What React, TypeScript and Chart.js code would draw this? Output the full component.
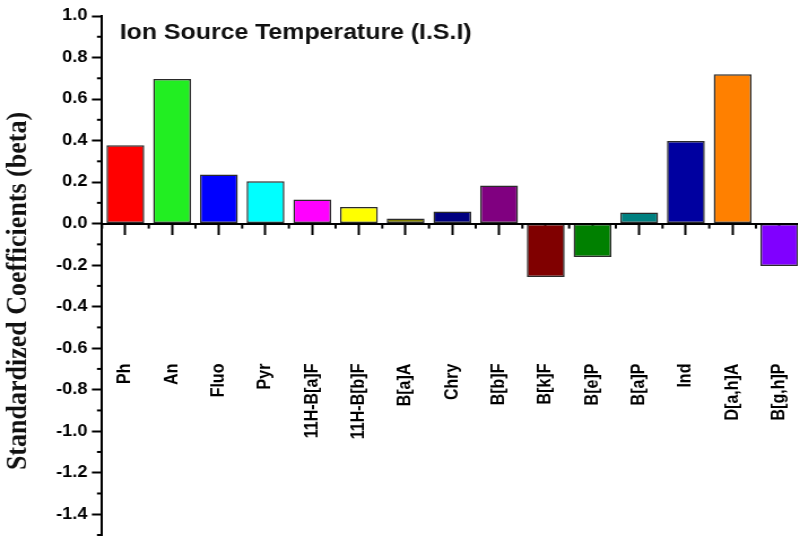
import { useEffect, useRef } from "react";
import { Chart, registerables } from "chart.js";

Chart.register(...registerables);

// Standardized regression coefficients for each PAH
const compounds = [
  "Ph", "An", "Fluo", "Pyr", "11H-B[a]F", "11H-B[b]F", "B[a]A", "Chry",
  "B[b]F", "B[k]F", "B[e]P", "B[a]P", "Ind", "D[a,h]A", "B[g,h]P",
];
const beta = [
  0.378, 0.697, 0.236, 0.204, 0.116, 0.08, 0.024, 0.058,
  0.183, -0.257, -0.161, 0.054, 0.398, 0.719, -0.204,
];
const barColors = [
  "#FF0000", "#22EE22", "#0000FF", "#00FFFF", "#FF00FF", "#FFFF00", "#808000", "#000080",
  "#800080", "#800000", "#008000", "#008080", "#0000A0", "#FF8000", "#8000FF",
];
const chartTitle = "Ion Source Temperature (I.S.I)";
const yAxisTitle = "Standardized Coefficients (beta)";
const yMin = -1.5;
const yMax = 1.0;
const yStep = 0.2;

const SANS = '"Liberation Sans", Arial, sans-serif';
const SERIF = '"Liberation Serif", "Times New Roman", serif';

// Minor ticks, the plot title and the rotated y-axis title
const decorations = {
  id: "decorations",
  afterDraw(chart: any) {
    const { ctx, scales } = chart;
    const x = scales.x;
    const y = scales.y;
    const axisX = chart.chartArea.left;
    const zeroY = y.getPixelForValue(0);
    ctx.save();
    ctx.strokeStyle = "#000";
    ctx.lineWidth = 2;

    // minor ticks on the value axis (odd tenths)
    for (let k = Math.round(yMin * 10); k <= Math.round(yMax * 10); k++) {
      if (k % 2 === 0) continue;
      const py = y.getPixelForValue(k / 10);
      ctx.beginPath();
      ctx.moveTo(axisX - 4.5, py);
      ctx.lineTo(axisX, py);
      ctx.stroke();
    }

    // minor ticks between categories on the zero line
    const half = (x.getPixelForValue(1) - x.getPixelForValue(0)) / 2;
    for (let i = 0; i <= compounds.length; i++) {
      const px = x.getPixelForValue(0) - half + i * half * 2;
      ctx.beginPath();
      ctx.moveTo(px, zeroY);
      ctx.lineTo(px, zeroY + 5);
      ctx.stroke();
    }

    ctx.fillStyle = "#111";
    ctx.font = `bold 22px ${SANS}`;
    ctx.textAlign = "left";
    ctx.textBaseline = "alphabetic";
    ctx.fillText(chartTitle, 106, 38.5);

    ctx.translate(16, 291);
    ctx.rotate(-Math.PI / 2);
    ctx.font = `bold 26px ${SERIF}`;
    ctx.textAlign = "center";
    ctx.textBaseline = "middle";
    ctx.fillText(yAxisTitle, 0, 0);
    ctx.restore();
  },
};

export default function App() {
  const canvasRef = useRef<HTMLCanvasElement | null>(null);

  useEffect(() => {
    if (!canvasRef.current) return;
    const chart = new Chart(canvasRef.current, {
      type: "bar",
      data: {
        labels: compounds,
        datasets: [
          {
            data: beta,
            backgroundColor: barColors,
            borderColor: "#2a2a2a",
            borderWidth: 1.5,
            borderSkipped: false,
            categoryPercentage: 1,
            barPercentage: 0.81,
          },
        ],
      },
      options: {
        responsive: false,
        maintainAspectRatio: false,
        animation: false,
        devicePixelRatio: 1,
        layout: { padding: { top: 16, bottom: 5, left: 0, right: 9.7 } },
        plugins: {
          legend: { display: false },
          title: { display: false },
          tooltip: { enabled: false },
        },
        scales: {
          x: {
            type: "category",
            position: { y: 0 },
            // the axis sits on the zero line, so it reserves no layout space
            afterFit: (scale: any) => {
              scale.height = 0;
              scale.paddingLeft = 0;
              scale.paddingRight = 0;
              scale.paddingTop = 0;
              scale.paddingBottom = 0;
            },
            grid: {
              offset: false,
              drawOnChartArea: false,
              tickLength: 10,
              tickWidth: 2,
              tickColor: "#000",
            },
            border: { display: true, color: "#000", width: 2, z: 1 },
            ticks: {
              autoSkip: false,
              maxRotation: 90,
              minRotation: 90,
              padding: 130,
              color: "#000",
              font: { family: SANS, size: 16, weight: "bold" },
            },
          },
          y: {
            type: "linear",
            position: "left",
            min: yMin,
            max: yMax,
            afterFit: (scale: any) => {
              scale.width = 90.3;
              scale.paddingTop = 0;
              scale.paddingBottom = 0;
            },
            afterBuildTicks: (scale: any) => {
              scale.ticks = scale.ticks.filter((t: any) => t.value > yMin + 0.05);
            },
            ticks: {
              stepSize: yStep,
              padding: 4,
              color: "#000",
              font: { family: SANS, size: 16, weight: "bold" },
              callback: (v: any) => Number(v).toFixed(1),
            },
            grid: {
              drawOnChartArea: false,
              tickLength: 9,
              tickWidth: 2,
              tickColor: "#000",
            },
            border: { display: true, color: "#000", width: 2 },
          },
        },
      },
      plugins: [decorations],
    });
    return () => chart.destroy();
  }, []);

  return (
    <div
      style={{
        position: "fixed",
        left: 0,
        top: 0,
        width: 798,
        height: 536,
        overflow: "hidden",
        background: "#fff",
      }}
    >
      <canvas
        ref={canvasRef}
        width={720}
        height={540}
        style={{
          width: "720px",
          height: "540px",
          display: "block",
          transform: "scaleX(1.13)",
          transformOrigin: "0 0",
        }}
      />
    </div>
  );
}
